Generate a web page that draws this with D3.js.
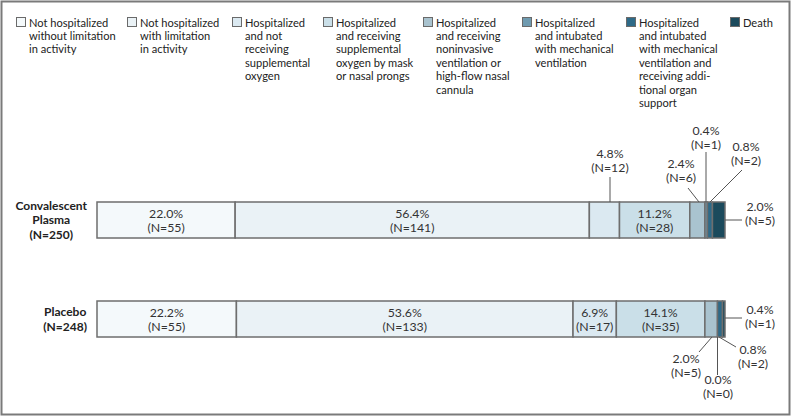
<!DOCTYPE html>
<html>
<head>
<meta charset="utf-8">
<script src="https://cdn.jsdelivr.net/npm/d3@7"></script>
<style>
  body { margin: 0; background: #fff; }
  svg text { font-family: Lato, "Noto Sans", sans-serif; }
</style>
</head>
<body>
<div class="container"></div>
<script>
// categories (legend order, light -> dark)
var categories = [
    ["Not hospitalized", "without limitation", "in activity"],
    ["Not hospitalized", "with limitation", "in activity"],
    ["Hospitalized", "and not", "receiving", "supplemental", "oxygen"],
    ["Hospitalized", "and receiving", "supplemental", "oxygen by mask", "or nasal prongs"],
    ["Hospitalized", "and receiving", "noninvasive", "ventilation or", "high-flow nasal", "cannula"],
    ["Hospitalized", "and intubated", "with mechanical", "ventilation"],
    ["Hospitalized", "and intubated", "with mechanical", "ventilation and", "receiving addi-", "tional organ", "support"],
    ["Death"]
];
var colors = ["#f4f9fb", "#eaf2f6", "#dbe9f1", "#cadfe8", "#a9c3cf", "#6f9bb0", "#2e6a88", "#1b4a5c"];

var groups = [["Convalescent", "Plasma", "(N=250)"], ["Placebo", "(N=248)"]];
var plasmaPct = [22.0, 56.4, 4.8, 11.2, 2.4, 0.4, 0.8, 2.0];
var plasmaN = [55, 141, 12, 28, 6, 1, 2, 5];
var placeboPct = [22.2, 53.6, 6.9, 14.1, 2.0, 0.0, 0.8, 0.4];
var placeboN = [55, 133, 17, 35, 5, 0, 2, 1];

var width = 791, height = 417;
var barLeft = 97, barRight = 725, barH = 36;
var barTops = [202, 301];

// callout layout for the small segments: category index, label centre x, first baseline,
// leader from (x, y) to (x, y); y values below 100 are relative to the bar top
var callouts = [
    [ // plasma
        { i: 2, lx: 610, ly: 158, line: [[610, 177], [610, 0]] },
        { i: 4, lx: 681, ly: 168, line: [[688, 188], [699, 0]] },
        { i: 5, lx: 706, ly: 135, line: [[706, 152], [706, 0]] },
        { i: 6, lx: 746, ly: 151, line: [[742, 170], [710, 0]] },
        { i: 7, lx: 760, ly: 211, line: [[742, 18], [725, 18]] }
    ],
    [ // placebo
        { i: 7, lx: 760, ly: 314, line: [[742, 17], [725, 17]] },
        { i: 4, lx: 686, ly: 363, line: [[699, 352], [712, 36]] },
        { i: 5, lx: 718, ly: 384, line: [[717.5, 375], [717.5, 36]] },
        { i: 6, lx: 753, ly: 354, line: [[736, 347], [719, 36]] }
    ]
];

var svg = d3.select('.container')
    .append('svg')
    .attr('width', width)
    .attr('height', height);

svg.append('rect')
    .attr('x', 1.5).attr('y', 1.5)
    .attr('width', width - 3).attr('height', height - 4)
    .attr('fill', 'white')
    .attr('stroke', '#7a7a7a')
    .attr('stroke-width', 2);

// legend
var legendX = [16, 127, 232, 323, 423, 522, 626, 730];
var legend = svg.append('g').attr('class', 'legend')
    .selectAll('g')
    .data(categories)
    .enter().append('g')
    .attr('transform', function (d, i) { return 'translate(' + legendX[i] + ',17)'; });

legend.append('rect')
    .attr('x', 0.5).attr('y', 0.5)
    .attr('width', 9).attr('height', 9)
    .attr('fill', function (d, i) { return colors[i]; })
    .attr('stroke', '#6a6a6a')
    .attr('stroke-width', 1);

legend.selectAll('text')
    .data(function (d) { return d; })
    .enter().append('text')
    .attr('x', 13)
    .attr('y', function (d, j) { return 9.5 + j * 13.4; })
    .attr('font-size', '11.1px')
    .attr('fill', '#222')
    .text(function (d) { return d; });

var x = d3.scaleLinear().domain([0, 100]).range([barLeft, barRight]);

var datasets = [
    { pct: plasmaPct, n: plasmaN },
    { pct: placeboPct, n: placeboN }
];

function twoLines(sel, cx, y, s) {
    sel.append('text')
        .attr('x', cx).attr('y', y)
        .attr('text-anchor', 'middle')
        .attr('font-size', '12.3px')
        .attr('fill', '#333')
        .text(s.p.toFixed(1) + '%');
    sel.append('text')
        .attr('x', cx).attr('y', y + 14)
        .attr('text-anchor', 'middle')
        .attr('font-size', '12.3px')
        .attr('fill', '#333')
        .text('(N=' + s.n + ')');
}

datasets.forEach(function (ds, g) {
    var top = barTops[g];
    var cum = 0;
    var segs = ds.pct.map(function (p, i) {
        var s = { i: i, p: p, n: ds.n[i], x0: cum, x1: cum + p };
        cum += p;
        return s;
    });

    var bar = svg.append('g').attr('class', 'bar');

    bar.selectAll('rect')
        .data(segs)
        .enter().append('rect')
        .attr('x', function (d) { return x(d.x0); })
        .attr('y', top)
        .attr('width', function (d) { return x(d.x1) - x(d.x0); })
        .attr('height', barH)
        .attr('fill', function (d) { return colors[d.i]; })
        .attr('stroke', '#6e6e6e')
        .attr('stroke-width', 1.5);

    // inside labels for wide segments
    segs.filter(function (d) { return x(d.x1) - x(d.x0) > 40; })
        .forEach(function (d) {
            twoLines(bar, (x(d.x0) + x(d.x1)) / 2, top + 16, d);
        });

    // callouts
    callouts[g].forEach(function (c) {
        var s = segs[c.i];
        var p0 = c.line[0], p1 = c.line[1];
        bar.append('line')
            .attr('x1', p0[0])
            .attr('y1', p0[1] > 100 ? p0[1] : top + p0[1])
            .attr('x2', p1[0])
            .attr('y2', top + p1[1])
            .attr('stroke', '#555')
            .attr('stroke-width', 1);
        twoLines(bar, c.lx, c.ly, s);
    });

    // group label
    var lines = groups[g];
    var startY = top + barH / 2 - (lines.length - 1) * 14.6 / 2 + 4.3;
    var tsp = svg.append('g').selectAll('text')
        .data(lines)
        .enter().append('text')
        .attr('font-size', '12px')
        .attr('font-weight', 'bold')
        .attr('fill', '#222')
        .attr('text-anchor', 'middle')
        .attr('y', function (d, j) { return startY + j * 14.6; })
        .text(function (d) { return d; });
    var maxW = 0;
    tsp.each(function () { maxW = Math.max(maxW, this.getComputedTextLength()); });
    tsp.attr('x', barLeft - 10 - maxW / 2);
});
</script>
</body>
</html>
